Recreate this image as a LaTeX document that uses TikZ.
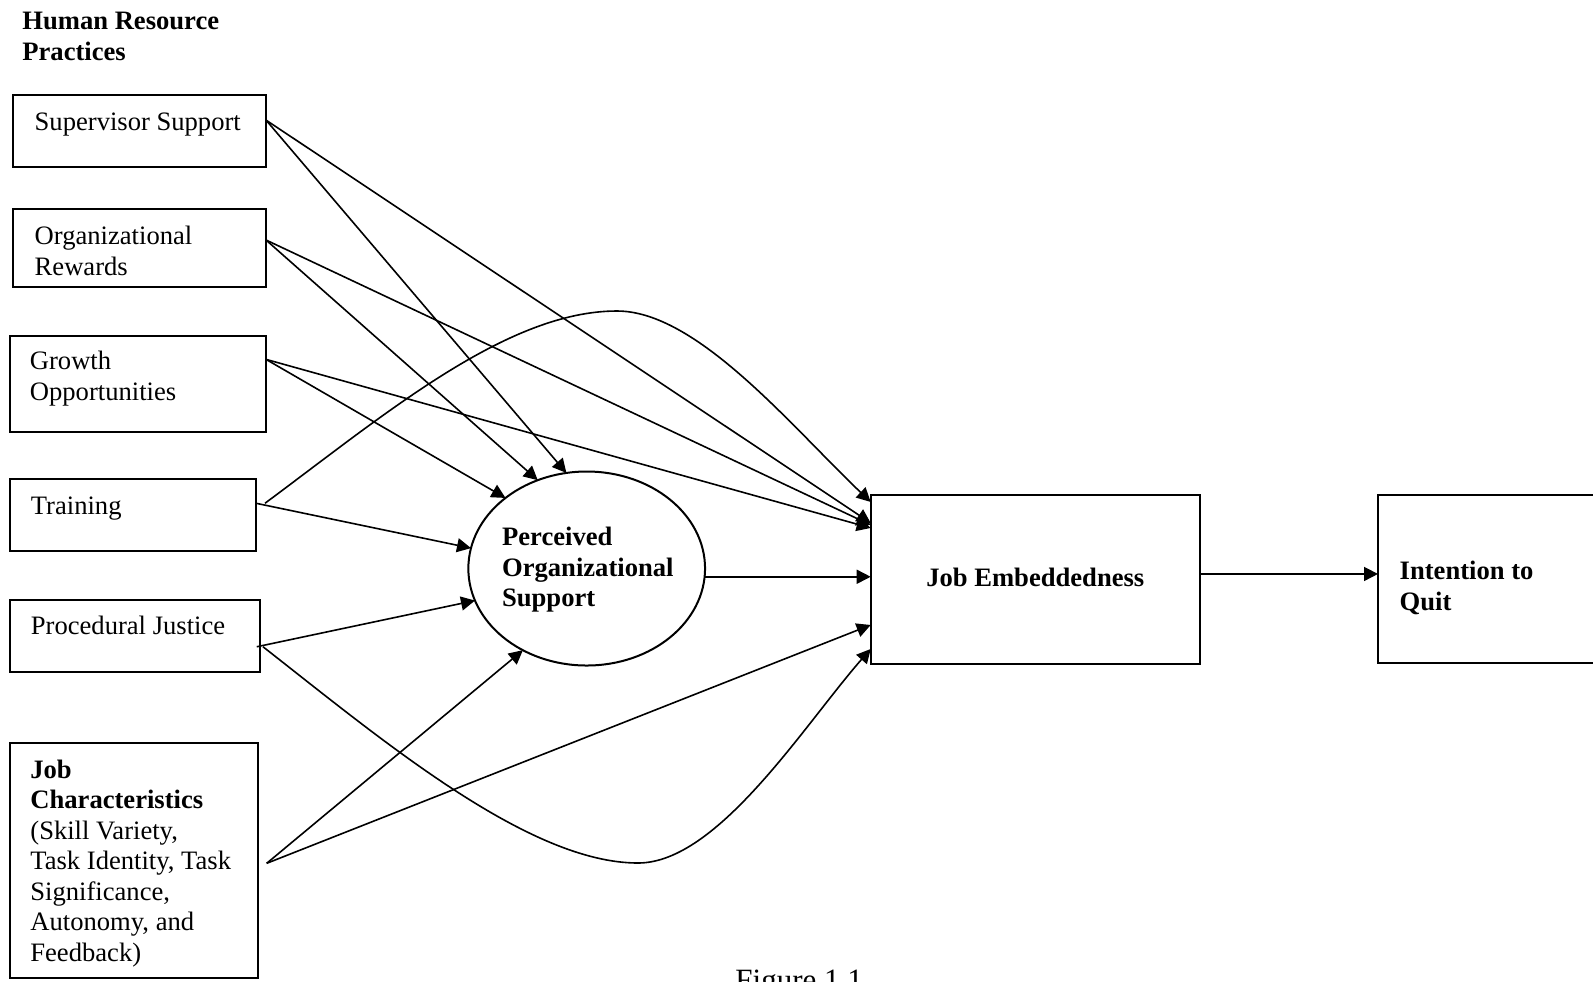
\documentclass[tikz,border=0pt]{standalone}
\usepackage{fontspec}
\setmainfont{Liberation Serif}
\usetikzlibrary{arrows.meta,shapes.geometric}
\newcommand\mysz{\fontsize{13.3}{15.25}\selectfont}
\begin{document}
\begin{tikzpicture}[x=0.5pt,y=-0.5pt,
  box/.style={draw, line width=1pt, inner sep=0pt, outer sep=0pt, anchor=north west},
  txt/.style={inner sep=0pt, anchor=base west, align=left, font=\mysz},
  arr/.style={-{Triangle[length=7pt,width=7pt]}, line width=0.8pt}]
\useasboundingbox[fill=white] (0,0) rectangle (1593,981);
% boxes
\node[box, minimum width=126.35pt, minimum height=35.85pt] (ss) at (13.3,95) {};
\node[box, minimum width=126.35pt, minimum height=39pt] (or) at (13.3,209.3) {};
\node[box, minimum width=127.9pt, minimum height=48.05pt] (go) at (10.2,335.7) {};
\node[box, minimum width=122.9pt, minimum height=35.85pt] (tr) at (10.2,479.3) {};
\node[box, minimum width=124.9pt, minimum height=35.75pt] (pj) at (10.2,600) {};
\node[box, minimum width=124.35pt, minimum height=117.5pt] (jc) at (9.6,743.3) {};
\node[draw, ellipse, line width=1pt, minimum width=118.35pt, minimum height=97pt, inner sep=0pt, outer sep=0pt] (pos) at (586.7,568.5) {};
\node[box, minimum width=164.65pt, minimum height=84.25pt] (je) at (870.7,495) {};
\node[box, minimum width=125pt, minimum height=84.15pt] (iq) at (1378,495) {};
% texts (anchor = baseline of the last line)
\node[txt, font=\mysz\bfseries] (hdr) at (22,60) {Human Resource\\Practices};
\node[txt] (ssT) at (34.3,130) {Supervisor Support};
\node[txt] (orT) at (34.3,275) {Organizational\\Rewards};
\node[txt] (goT) at (29.5,400.2) {Growth\\Opportunities};
\node[txt] (trT) at (30.5,514) {Training};
\node[txt] (pjT) at (30.5,634.8) {Procedural Justice};
\node[txt] (jcT) at (30,961) {\textbf{Job}\\\textbf{Characteristics}\\(Skill Variety,\\Task Identity, Task\\Significance,\\Autonomy, and\\Feedback)};
\node[txt, font=\mysz\bfseries] (posT) at (501.7,606.7) {Perceived\\Organizational\\Support};
\node[txt, font=\mysz\bfseries, anchor=base] (jeT) at (1035.3,586) {Job Embeddedness};
\node[txt, font=\mysz\bfseries] (iqT) at (1399.3,610) {Intention to\\Quit};
\node[txt, font=\fontsize{15.5}{18}\selectfont] (fig) at (735,990.5) {Figure 1.1};
% connectors
\coordinate (posR) at (pos.-4);
\coordinate (jeR) at ([yshift=2.65pt]je.east);
\draw[arr] ([yshift=5.4pt]ss.east) -- (pos.102);
\draw[arr] ([yshift=5.4pt]ss.east) -- ([yshift=28.15pt]je.west);
\draw[arr] ([yshift=4.15pt]or.east) -- (pos.119);
\draw[arr] ([yshift=4.15pt]or.east) -- ([yshift=27.15pt]je.west);
\draw[arr] ([yshift=12.2pt]go.east) -- (pos.139);
\draw[arr] ([yshift=12.2pt]go.east) -- ([yshift=25.65pt]je.west);
\draw[arr] ([yshift=5.95pt]tr.east) -- (pos.170);
\draw[arr] ([xshift=4.5pt,yshift=5.95pt]tr.east) .. controls (385.6,413.8) and (507,311) .. (617,311) .. controls (697,311) and (791,426) .. ([yshift=38.65pt]je.west);
\draw[arr] ([xshift=-1.6pt,yshift=-5.5pt]pj.east) -- (pos.196);
\draw[arr] ([xshift=1.5pt,yshift=-5.5pt]pj.east) .. controls (381,739) and (528,863) .. (638,863) .. controls (718,863) and (804.4,724.5) .. ([yshift=-34.85pt]je.west);
\draw[arr] ([xshift=4.2pt,yshift=-1.25pt]jc.east) -- (pos.232);
\draw[arr] ([xshift=4.2pt,yshift=-1.25pt]jc.east) -- ([yshift=-22.85pt]je.west);
\draw[arr] (posR) -- (posR -| je.west);
\draw[arr] (jeR) -- (jeR -| iq.west);
\end{tikzpicture}
\end{document}
